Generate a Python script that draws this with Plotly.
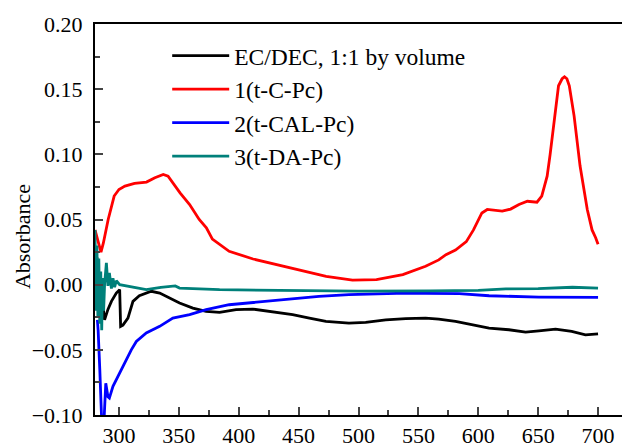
import plotly.graph_objects as go

# ---- data ----
names = ["EC/DEC, 1:1 by volume", "1(t-C-Pc)", "2(t-CAL-Pc)", "3(t-DA-Pc)"]
colors = ["#000000", "#ff0000", "#0000ff", "#00807a"]
y_title = "Absorbance"

wl_black = [281.5, 283, 284.5, 286.7, 288, 290.8, 293.7, 297.8, 300.6, 301.4, 303.3, 307.5,
            311.7, 317, 327, 334, 342, 350.6, 361.7, 372.8, 384, 397.8, 411.7, 425.6, 434,
            445, 459, 472.8, 492, 506, 522.8, 539.5, 556, 567, 581, 595, 609, 625.6, 639.5,
            650.6, 664.5, 678, 689.5, 700]
abs_black = [0.021, 0.012, 0.0, -0.0167, -0.027, -0.019, -0.0128, -0.0064, -0.0038, -0.032,
             -0.031, -0.0256, -0.0128, -0.0085, -0.0051, -0.0064, -0.0103, -0.0141, -0.018,
             -0.0205, -0.0213, -0.0192, -0.0187, -0.0205, -0.0218, -0.023, -0.0256, -0.0282,
             -0.0295, -0.029, -0.027, -0.026, -0.0256, -0.0264, -0.0282, -0.031, -0.0333,
             -0.0346, -0.0364, -0.0354, -0.0341, -0.0359, -0.0385, -0.0377]

wl_red = [280, 282, 285, 287, 291, 296, 300, 305, 313, 323, 330, 337, 341, 351, 359, 367,
          373, 378, 392, 412, 431, 445, 473, 495, 515, 537, 556, 567, 573, 581, 590, 596,
          600, 603, 607.5, 613, 620, 627, 634, 641, 649, 653, 657.5, 660, 663, 667, 670,
          672, 674, 676, 680, 685, 691, 695, 698, 700]
abs_red = [0.042, 0.035, 0.025, 0.032, 0.050, 0.068, 0.073, 0.0756, 0.0777, 0.0787, 0.082,
           0.0846, 0.0833, 0.0705, 0.0615, 0.050, 0.0436, 0.035, 0.0256, 0.0197, 0.0154,
           0.0128, 0.0064, 0.0035, 0.0038, 0.0077, 0.0141, 0.019, 0.023, 0.0265, 0.033,
           0.042, 0.050, 0.055, 0.0577, 0.0572, 0.0564, 0.058, 0.0615, 0.064, 0.0633, 0.068,
           0.0833, 0.100, 0.1218, 0.1526, 0.158, 0.1595, 0.158, 0.1526, 0.1295, 0.091,
           0.0577, 0.042, 0.036, 0.031]

wl_blue = [282, 282.6, 284, 284.7, 285.6, 287.5, 289, 290.8, 292, 295, 299, 304.7, 310.3,
           314.5, 322.8, 334, 345, 359, 372.8, 392, 411.7, 434, 445, 467, 492, 514.5, 532,
           556, 584, 609, 650.6, 700]
abs_blue = [-0.027, -0.0346, -0.065, -0.0936, -0.105, -0.105, -0.0756, -0.086, -0.087,
            -0.078, -0.0705, -0.060, -0.050, -0.0436, -0.037, -0.032, -0.0256, -0.023,
            -0.0192, -0.0154, -0.0136, -0.0115, -0.0108, -0.009, -0.0077, -0.0069, -0.0067,
            -0.0067, -0.0069, -0.0085, -0.0095, -0.0097]

wl_teal = [280, 280.8, 281.6, 282.4, 283.2, 284, 284.8, 285.6, 286.4, 287.2, 288, 289.5,
           290.8, 292, 293.7, 295, 296.4, 297.8, 300.6, 308.9, 314.5, 322.8, 335, 347, 350.6,
           384, 434, 500, 560, 600, 623, 650, 678.6, 700]
abs_teal = [0.042, -0.02, 0.03, -0.025, 0.02, -0.03, 0.01, -0.035, 0.005, -0.02, 0.0, 0.0167,
            -0.001, 0.009, -0.003, 0.005, -0.002, 0.003, 0.0, -0.0013, -0.0026, -0.0038,
            -0.002, -0.001, -0.0026, -0.0038, -0.0044, -0.005, -0.0048, -0.0044, -0.0033,
            -0.003, -0.002, -0.0026]

series = [(wl_black, abs_black), (wl_red, abs_red), (wl_blue, abs_blue), (wl_teal, abs_teal)]

FONT = "'Liberation Serif', 'Times New Roman', 'DejaVu Serif', serif"

fig = go.Figure()
for (xs, ys), nm, col in zip(series, names, colors):
    fig.add_trace(go.Scatter(x=xs, y=ys, mode="lines", name=nm,
                             line=dict(color=col, width=2.8)))

fig.add_annotation(text=y_title, textangle=-90, xref="paper", yref="paper",
                   x=-0.1385, y=0.455, xanchor="center", yanchor="middle",
                   showarrow=False, font=dict(family=FONT, size=22, color="black"))

fig.update_layout(
    width=622, height=448,
    margin=dict(l=95, r=0, t=24, b=33),
    paper_bgcolor="white", plot_bgcolor="white",
    font=dict(family=FONT, size=22, color="black"),
    showlegend=True,
    legend=dict(x=0.137, y=0.975, xanchor="left", yanchor="top",
                font=dict(family=FONT, size=23.5, color="black"),
                bgcolor="rgba(0,0,0,0)", itemwidth=57, tracegroupgap=0),
    xaxis=dict(range=[280, 720], dtick=50, tick0=300, ticks="inside", ticklen=8,
               tickwidth=1.5, showline=True, linecolor="black", linewidth=2,
               mirror=True, showgrid=False, zeroline=False,
               minor=dict(dtick=25, tick0=300, ticks="inside", ticklen=5, tickwidth=1.5,
                          showgrid=False),
               tickfont=dict(family=FONT, size=22)),
    yaxis=dict(range=[-0.10, 0.20], dtick=0.05, tick0=0, tickformat=".2f",
               ticks="inside", ticklen=8, tickwidth=1.5, showline=True,
               linecolor="black", linewidth=2, showgrid=False, zeroline=False,
               ticklabelstandoff=6,
               minor=dict(dtick=0.025, ticks="inside", ticklen=5, tickwidth=1.5,
                          showgrid=False),
               tickfont=dict(family=FONT, size=22)),
)

fig.write_html("out.html", config={"displayModeBar": False},
               post_script="document.body.style.margin='0';")
